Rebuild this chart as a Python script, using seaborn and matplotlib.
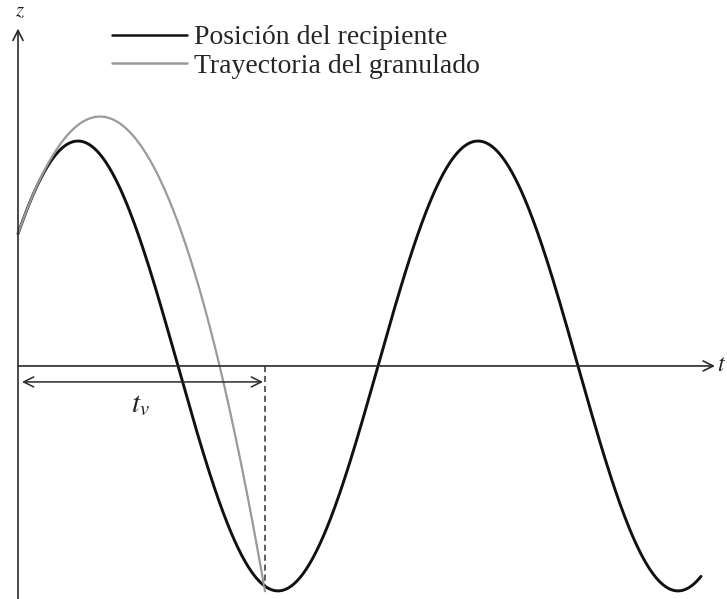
import numpy as np
import pandas as pd
import matplotlib
matplotlib.use("Agg")
import matplotlib.pyplot as plt
import seaborn as sns

# Container oscillation z(t) = A sin(2*pi*t/T + phi), time in periods
amplitude = 1.0
period = 1.0
phase_deg = 36.0
t_end = 1.7075

# Granule free flight: leaves with the container's position and velocity
g_eff = 24.8          # effective gravity in these units
t_flight = 0.6175     # flight time t_v (landing instant)

labels = ["Posición del recipiente", "Trayectoria del granulado"]
colors = ["#111111", "#9a9a9a"]

phi = np.deg2rad(phase_deg)
omega = 2 * np.pi / period

t_c = np.linspace(0, t_end, 600)
z_c = amplitude * np.sin(omega * t_c + phi)

z0 = amplitude * np.sin(phi)
v0 = amplitude * omega * np.cos(phi)
t_g = np.linspace(0, t_flight, 300)
z_g = z0 + v0 * t_g - 0.5 * g_eff * t_g ** 2

df = pd.concat([
    pd.DataFrame({"t": t_c, "z": z_c, "serie": labels[0]}),
    pd.DataFrame({"t": t_g, "z": z_g, "serie": labels[1]}),
])

sns.set_style("white")
plt.rcParams["font.family"] = ["Liberation Serif", "DejaVu Serif"]
plt.rcParams["mathtext.fontset"] = "stix"

fig = plt.figure(figsize=(7.27, 5.99), dpi=100)
ax = fig.add_axes([0, 0, 1, 1])
ax.set_xlim(-0.045, 1.7725)
ax.set_ylim(-1.036, 1.627)
ax.axis("off")

sns.lineplot(data=df, x="t", y="z", hue="serie", palette=colors,
             hue_order=labels, sort=False, estimator=None, ax=ax,
             linewidth=2.1, legend=True)
ax.lines[1].set_linewidth(1.6)

axis_col = "#2a2a2a"
# horizontal t axis
ax.annotate("", xy=(1.7425, 0), xytext=(0, 0),
            arrowprops=dict(arrowstyle="->", lw=1.2, color=axis_col,
                            mutation_scale=18, shrinkA=0, shrinkB=0))
# vertical z axis
ax.annotate("", xy=(0, 1.50), xytext=(0, -1.04),
            arrowprops=dict(arrowstyle="->", lw=1.2, color=axis_col,
                            mutation_scale=18, shrinkA=0, shrinkB=0))
ax.text(0.005, 1.575, "$z$", fontsize=15, ha="center", va="center", color="#222")
ax.text(1.7575, 0.0, "$t$", fontsize=17, ha="center", va="center", color="#222")

# flight time marker
z_land = amplitude * np.sin(omega * t_flight + phi)
ax.plot([t_flight, t_flight], [0, z_land], ls=(0, (4, 2.5)), lw=1.1, color="#333")
ax.annotate("", xy=(t_flight - 0.005, -0.071), xytext=(0.01, -0.071),
            arrowprops=dict(arrowstyle="<->", lw=1.1, color=axis_col,
                            mutation_scale=18, shrinkA=0, shrinkB=0))
ax.text(0.305, -0.175, "$t_v$", fontsize=21, ha="center", va="center", color="#222")

leg = ax.legend(loc="upper left", bbox_to_anchor=(112 / 727, 1 - 25 / 599),
                frameon=False, fontsize=20, handlelength=2.7, handletextpad=0.25,
                labelspacing=0.1, borderpad=0, borderaxespad=0, title=None)
for h in leg.get_lines():
    h.set_linewidth(1.8)

fig.savefig("out.png", dpi=100)
